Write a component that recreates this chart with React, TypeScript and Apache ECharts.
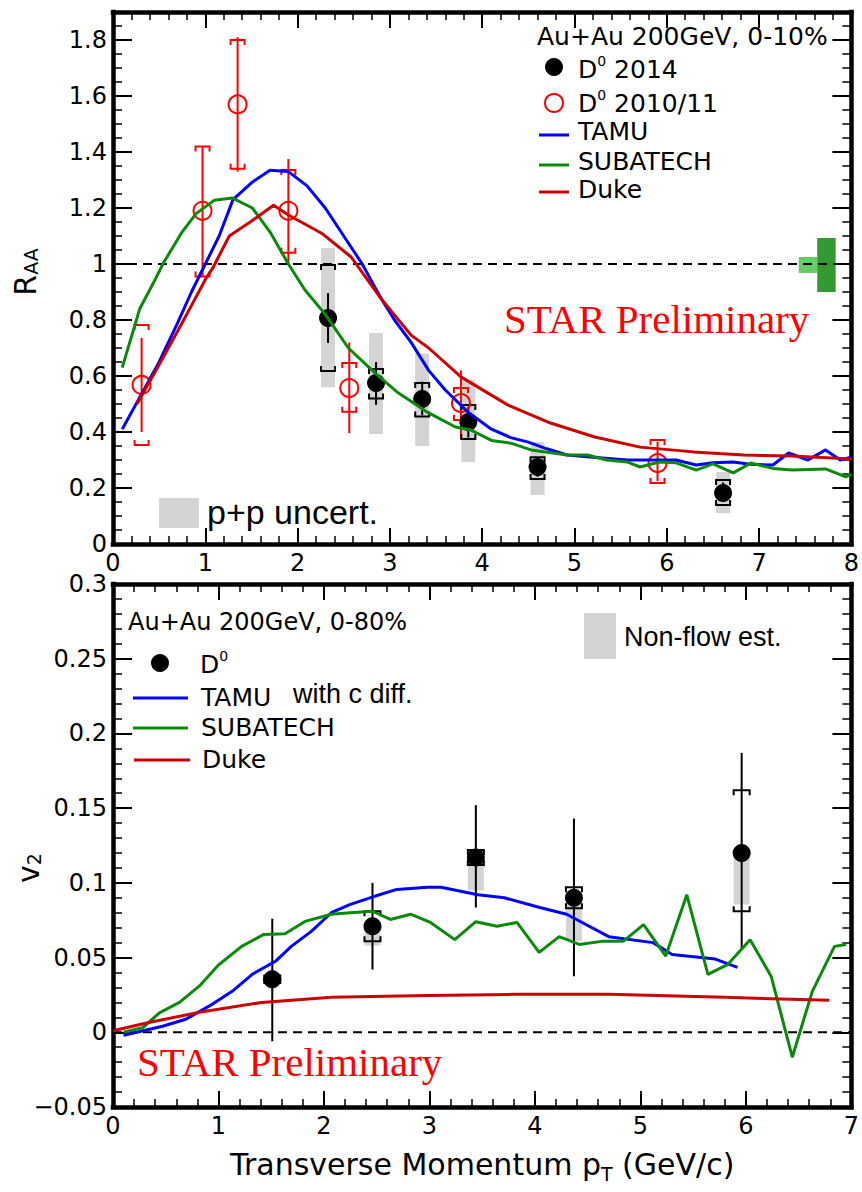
import React, { useEffect, useRef } from "react";
import * as echarts from "echarts";

// ---------------- Top panel: R_AA ----------------
const xTicksTop = [0, 1, 2, 3, 4, 5, 6, 7, 8];
// D0 2014 (filled black)
const d14Pt = [2.33, 2.85, 3.35, 3.85, 4.6, 6.61];
const d14Raa = [0.807, 0.575, 0.518, 0.436, 0.275, 0.182];
const d14StatLo = [0.718, 0.497, 0.46, 0.38, 0.24, 0.15];
const d14StatHi = [0.896, 0.65, 0.58, 0.49, 0.31, 0.22];
const d14SysLo = [0.618, 0.52, 0.455, 0.375, 0.232, 0.139];
const d14SysHi = [0.996, 0.625, 0.575, 0.496, 0.31, 0.229];
const d14PpLo = [0.56, 0.393, 0.35, 0.293, 0.175, 0.11];
const d14PpHi = [1.057, 0.754, 0.68, 0.586, 0.364, 0.257];
// D0 2010/11 (open red)
const d11Pt = [0.31, 0.97, 1.35, 1.9, 2.56, 3.77, 5.9];
const d11Raa = [0.568, 1.19, 1.57, 1.19, 0.557, 0.503, 0.289];
const d11StatLo = [0.4, 0.955, 1.33, 0.997, 0.396, 0.375, 0.225];
const d11StatHi = [0.736, 1.42, 1.81, 1.375, 0.72, 0.62, 0.365];
const d11SysLo = [0.354, 0.955, 1.34, 1.04, 0.472, 0.443, 0.218];
const d11SysHi = [0.782, 1.42, 1.8, 1.336, 0.646, 0.557, 0.371];
// normalisation boxes at unity
const normX0 = [7.43, 7.63];
const normX1 = [7.63, 7.83];
const normLo = [0.968, 0.9];
const normHi = [1.025, 1.093];
// models
const tamuRaaPt = [0.1, 0.3, 0.5, 0.7, 0.85, 1.0, 1.15, 1.3, 1.5, 1.7, 1.9, 2.1, 2.3, 2.5, 2.7, 2.9, 3.05, 3.23, 3.42, 3.6, 3.85, 4.1, 4.31, 4.5, 4.7, 4.92, 5.2, 5.57, 5.9, 6.1, 6.32, 6.5, 6.72, 6.9, 7.15, 7.32, 7.53, 7.72, 7.88, 8.0];
const tamuRaa = [0.41, 0.53, 0.65, 0.79, 0.9, 1.0, 1.1, 1.23, 1.29, 1.335, 1.33, 1.28, 1.2, 1.1, 1.0, 0.88, 0.8, 0.72, 0.62, 0.55, 0.47, 0.41, 0.38, 0.364, 0.34, 0.318, 0.31, 0.3, 0.3, 0.3, 0.282, 0.29, 0.293, 0.285, 0.282, 0.325, 0.3, 0.336, 0.3, 0.31];
const subaRaaPt = [0.1, 0.29, 0.45, 0.54, 0.74, 0.9, 1.1, 1.29, 1.51, 1.71, 1.9, 2.08, 2.3, 2.55, 2.84, 3.09, 3.41, 3.71, 3.88, 4.1, 4.31, 4.53, 4.92, 5.14, 5.35, 5.57, 5.71, 5.92, 6.1, 6.32, 6.5, 6.72, 6.91, 7.15, 7.36, 7.72, 7.94, 8.0];
const subaRaa = [0.63, 0.84, 0.94, 1.0, 1.11, 1.18, 1.228, 1.236, 1.2, 1.11, 1.0, 0.907, 0.82, 0.7, 0.61, 0.54, 0.47, 0.418, 0.407, 0.37, 0.36, 0.336, 0.318, 0.318, 0.3, 0.293, 0.275, 0.293, 0.29, 0.264, 0.286, 0.254, 0.289, 0.27, 0.264, 0.268, 0.24, 0.25];
const dukeRaaPt = [0.26, 0.5, 0.75, 0.88, 1.01, 1.08, 1.26, 1.47, 1.74, 1.9, 2.26, 2.58, 2.9, 3.23, 3.42, 3.77, 4.28, 4.74, 5.22, 5.71, 6.29, 6.83, 7.36, 8.0];
const dukeRaa = [0.5, 0.64, 0.79, 0.87, 0.95, 0.985, 1.1, 1.146, 1.21, 1.175, 1.11, 1.025, 0.878, 0.746, 0.7, 0.597, 0.496, 0.432, 0.382, 0.346, 0.329, 0.318, 0.314, 0.304];

// ---------------- Bottom panel: v2 ----------------
const v2Pt = [1.51, 2.46, 3.44, 4.37, 5.96];
const v2Val = [0.0355, 0.071, 0.117, 0.09, 0.12];
const v2StatLo = [-0.006, 0.042, 0.0835, 0.0375, 0.0555];
const v2StatHi = [0.076, 0.1, 0.152, 0.143, 0.187];
const v2SysLo = [0.033, 0.061, 0.112, 0.083, 0.081];
const v2SysHi = [0.038, 0.081, 0.122, 0.097, 0.162];
const v2NfPt = [2.46, 3.44, 4.37, 5.96];
const v2NfLo = [0.058, 0.095, 0.061, 0.0855];
const v2NfHi = [0.072, 0.117, 0.09, 0.12];
const tamuV2Pt = [0.1, 0.47, 0.69, 0.94, 1.13, 1.32, 1.54, 1.69, 1.88, 2.07, 2.25, 2.48, 2.69, 2.98, 3.11, 3.46, 3.71, 4.02, 4.3, 4.7, 5.12, 5.3, 5.71, 5.92];
const tamuV2 = [-0.002, 0.004, 0.0087, 0.0187, 0.0274, 0.0388, 0.0475, 0.0575, 0.0675, 0.08, 0.0856, 0.091, 0.0956, 0.097, 0.097, 0.092, 0.09, 0.084, 0.079, 0.064, 0.06, 0.052, 0.049, 0.0435];
const subaV2Pt = [0.1, 0.28, 0.44, 0.63, 0.82, 1.0, 1.22, 1.43, 1.63, 1.82, 2.07, 2.25, 2.46, 2.63, 2.82, 3.01, 3.24, 3.44, 3.64, 3.83, 4.04, 4.23, 4.42, 4.65, 4.84, 5.03, 5.24, 5.44, 5.64, 5.83, 6.04, 6.24, 6.44, 6.63, 6.84, 6.95];
const subaV2 = [0.0, 0.003, 0.013, 0.02, 0.031, 0.045, 0.0575, 0.0655, 0.066, 0.0742, 0.079, 0.08, 0.081, 0.0755, 0.079, 0.0735, 0.062, 0.074, 0.071, 0.0735, 0.0535, 0.064, 0.0588, 0.061, 0.061, 0.072, 0.051, 0.092, 0.0388, 0.0455, 0.062, 0.0374, -0.0167, 0.0274, 0.0575, 0.0588];
const dukeV2Pt = [0.0, 0.35, 0.82, 1.41, 2.07, 2.98, 3.8, 4.7, 5.8, 6.79];
const dukeV2 = [0.001, 0.0067, 0.0134, 0.02, 0.0234, 0.0247, 0.0254, 0.0254, 0.0234, 0.0214];

const C_BLUE = "#0000ff";
const C_GREEN = "#0a8a0a";
const C_DRED = "#cc0000";
const C_RED = "#ff0000";
const C_GRAY = "#d4d4d4";
const SANS = "DejaVu Sans";

const zip = (a: number[], b: number[]) => a.map((v, i) => [v, b[i]]);

function errRender(color: string, halfW: number, cap: number) {
  return (params: any, api: any) => {
    const x = api.value(0);
    const pLo = api.coord([x, api.value(2)]);
    const pHi = api.coord([x, api.value(3)]);
    const qLo = api.coord([x, api.value(4)]);
    const qHi = api.coord([x, api.value(5)]);
    const cx = pLo[0];
    const style = { stroke: color, lineWidth: 2, fill: null };
    return {
      type: "group",
      children: [
        { type: "line", shape: { x1: cx, y1: pLo[1], x2: cx, y2: pHi[1] }, style },
        { type: "polyline", shape: { points: [[cx - halfW, qHi[1] + cap], [cx - halfW, qHi[1]], [cx + halfW, qHi[1]], [cx + halfW, qHi[1] + cap]] }, style },
        { type: "polyline", shape: { points: [[cx - halfW, qLo[1] - cap], [cx - halfW, qLo[1]], [cx + halfW, qLo[1]], [cx + halfW, qLo[1] - cap]] }, style },
      ],
    };
  };
}

function boxRender(halfW: number) {
  return (params: any, api: any) => {
    const x = api.value(0);
    const lo = api.coord([x, api.value(1)]);
    const hi = api.coord([x, api.value(2)]);
    return { type: "rect", shape: { x: lo[0] - halfW, y: hi[1], width: 2 * halfW, height: lo[1] - hi[1] }, style: { fill: C_GRAY } };
  };
}

const normColors = ["#66cc66", "#339933"];
function normRender(params: any, api: any) {
  const a = api.coord([api.value(0), api.value(3)]);
  const b = api.coord([api.value(1), api.value(2)]);
  return { type: "rect", shape: { x: a[0], y: a[1], width: b[0] - a[0], height: b[1] - a[1] }, style: { fill: normColors[params.dataIndex] } };
}

const axisLine = { show: true, onZero: false, lineStyle: { color: "#000", width: 4.5, cap: "square" } };
const labelStyle = { fontSize: 24, fontFamily: SANS, color: "#000" };

function xAx(gridIndex: number, position: string, max: number, showLabel: boolean, extra: any = {}) {
  return {
    type: "value", gridIndex, position, min: 0, max, interval: 1,
    axisLine,
    axisTick: { show: true, inside: true, length: 16, lineStyle: { color: "#000", width: 2 } },
    minorTick: { show: true, splitNumber: 5, length: 8, lineStyle: { color: "#000", width: 1.5 } },
    axisLabel: { show: showLabel, margin: 7, ...labelStyle },
    splitLine: { show: false },
    ...extra,
  };
}
function yAx(gridIndex: number, position: string, min: number, max: number, interval: number, minor: number, showLabel: boolean, fmt?: any) {
  return {
    type: "value", gridIndex, position, min, max, interval,
    axisLine,
    axisTick: { show: true, inside: true, length: 19, lineStyle: { color: "#000", width: 2 } },
    minorTick: { show: true, splitNumber: minor, length: 9, lineStyle: { color: "#000", width: 1.5 } },
    axisLabel: { show: showLabel, margin: 6, formatter: fmt, ...labelStyle },
    splitLine: { show: false },
  };
}

const lineSeries = (name: string, data: number[][], color: string, xi: number, yi: number, extra: any = {}) => ({
  type: "line", name, data, xAxisIndex: xi, yAxisIndex: yi, showSymbol: false, symbol: "none", z: 5,
  lineStyle: { color, width: 3 }, itemStyle: { color }, silent: true, ...extra,
});

function buildOption(): any {
  const d14Rows = d14Pt.map((p, i) => [p, d14Raa[i], d14StatLo[i], d14StatHi[i], d14SysLo[i], d14SysHi[i]]);
  const d11Rows = d11Pt.map((p, i) => [p, d11Raa[i], d11StatLo[i], d11StatHi[i], d11SysLo[i], d11SysHi[i]]);
  const v2Rows = v2Pt.map((p, i) => [p, v2Val[i], v2StatLo[i], v2StatHi[i], v2SysLo[i], v2SysHi[i]]);
  const normRows = normX0.map((x, i) => [x, normX1[i], normLo[i], normHi[i]]);

  const tFont = (s: number, extra: any = {}) => ({ fontFamily: SANS, fontSize: s, fill: "#000", ...extra });
  const supRich = { b: { ...tFont(25), lineHeight: 28, verticalAlign: "bottom" }, s: { ...tFont(14), lineHeight: 14, verticalAlign: "top" } };

  const graphic: any[] = [
    // top legend
    { type: "text", left: 537, top: 24, z: 100, style: { text: "Au+Au 200GeV, 0-10%", ...tFont(25) } },
    { type: "circle", shape: { cx: 554, cy: 67, r: 9 }, style: { fill: "#000" }, z: 100 },
    { type: "text", x: 578, y: 68, z: 100, style: { text: "{b|D}{s|0}{b| 2014}", verticalAlign: "middle", rich: supRich } },
    { type: "circle", shape: { cx: 554, cy: 103, r: 9 }, style: { fill: "none", stroke: C_RED, lineWidth: 2 }, z: 100 },
    { type: "text", x: 578, y: 102, z: 100, style: { text: "{b|D}{s|0}{b| 2010/11}", verticalAlign: "middle", rich: supRich } },
    { type: "line", shape: { x1: 539, y1: 135, x2: 569, y2: 135 }, style: { stroke: C_BLUE, lineWidth: 3 }, z: 100 },
    { type: "text", x: 578, y: 131, z: 100, style: { text: "TAMU", verticalAlign: "middle", ...tFont(25) } },
    { type: "line", shape: { x1: 539, y1: 165, x2: 569, y2: 165 }, style: { stroke: C_GREEN, lineWidth: 3 }, z: 100 },
    { type: "text", x: 578, y: 161, z: 100, style: { text: "SUBATECH", verticalAlign: "middle", ...tFont(25) } },
    { type: "line", shape: { x1: 539, y1: 192, x2: 569, y2: 192 }, style: { stroke: C_DRED, lineWidth: 3 }, z: 100 },
    { type: "text", x: 578, y: 189, z: 100, style: { text: "Duke", verticalAlign: "middle", ...tFont(25) } },
    // STAR preliminary top
    { type: "text", x: 504, y: 319, z: 100, style: { text: "STAR Preliminary", verticalAlign: "middle", fontFamily: "Liberation Serif", fontSize: 41, fill: C_RED } },
    // p+p uncert
    { type: "rect", shape: { x: 159, y: 498, width: 40, height: 30 }, style: { fill: C_GRAY }, z: 100 },
    { type: "text", x: 207, y: 512, z: 100, style: { text: "p+p uncert.", verticalAlign: "middle", fontFamily: "Liberation Sans", fontSize: 34, fill: "#000" } },
    // y titles
    { type: "text", x: 25, y: 272, rotation: Math.PI / 2, z: 100, style: { text: "{r|R}{s|AA}", align: "center", verticalAlign: "middle", rich: { r: { ...tFont(30), lineHeight: 30, verticalAlign: "top" }, s: { ...tFont(19), lineHeight: 19, padding: [12, 0, 0, 0], verticalAlign: "bottom" } } } },
    { type: "text", x: 28, y: 868, rotation: Math.PI / 2, z: 100, style: { text: "{r|v}{s|2}", align: "center", verticalAlign: "middle", rich: { r: { ...tFont(30), lineHeight: 30, verticalAlign: "top" }, s: { ...tFont(19), lineHeight: 19, padding: [12, 0, 0, 0], verticalAlign: "bottom" } } } },
    // bottom legend
    { type: "text", x: 128, y: 622, z: 100, style: { text: "Au+Au 200GeV, 0-80%", verticalAlign: "middle", ...tFont(24) } },
    { type: "circle", shape: { cx: 160, cy: 663, r: 9 }, style: { fill: "#000" }, z: 100 },
    { type: "text", x: 200, y: 663, z: 100, style: { text: "{b|D}{s|0}", verticalAlign: "middle", rich: supRich } },
    { type: "line", shape: { x1: 133, y1: 698, x2: 188, y2: 698 }, style: { stroke: C_BLUE, lineWidth: 3 }, z: 100 },
    { type: "text", x: 201, y: 697, z: 100, style: { text: "TAMU", verticalAlign: "middle", ...tFont(25) } },
    { type: "text", x: 293, y: 694, z: 100, style: { text: "with c diff.", verticalAlign: "middle", fontFamily: "Liberation Sans", fontSize: 27, fill: "#000" } },
    { type: "line", shape: { x1: 133, y1: 728, x2: 188, y2: 728 }, style: { stroke: C_GREEN, lineWidth: 3 }, z: 100 },
    { type: "text", x: 201, y: 727, z: 100, style: { text: "SUBATECH", verticalAlign: "middle", ...tFont(25) } },
    { type: "line", shape: { x1: 134, y1: 760, x2: 190, y2: 760 }, style: { stroke: C_DRED, lineWidth: 3 }, z: 100 },
    { type: "text", x: 202, y: 759, z: 100, style: { text: "Duke", verticalAlign: "middle", ...tFont(25) } },
    { type: "rect", shape: { x: 584, y: 613, width: 32, height: 46 }, style: { fill: C_GRAY }, z: 100 },
    { type: "text", x: 624, y: 637, z: 100, style: { text: "Non-flow est.", verticalAlign: "middle", fontFamily: "Liberation Sans", fontSize: 27, fill: "#000" } },
    // STAR preliminary bottom
    { type: "text", x: 137, y: 1062, z: 100, style: { text: "STAR Preliminary", verticalAlign: "middle", fontFamily: "Liberation Serif", fontSize: 41, fill: C_RED } },
  ];

  const topFmt = (v: number) => (Math.abs(v * 5 - Math.round(v * 5)) < 1e-6 ? String(+v.toFixed(1)) : "");
  const botFmt = (v: number) => {
    const r = +v.toFixed(2);
    if (r < 0) return "\u2212" + String(-r);
    return String(r);
  };

  return {
    animation: false,
    backgroundColor: "#fff",
    grid: [
      { left: 113, top: 12, width: 744, height: 532 },
      { left: 113, top: 584, width: 745, height: 523 },
    ],
    xAxis: [
      xAx(0, "bottom", 8, true, { data: xTicksTop }),
      xAx(0, "top", 8, false),
      xAx(1, "bottom", 7, true, {
        name: "{m|Transverse Momentum p}{sub|T}{m| (GeV/c)}", nameLocation: "middle", nameGap: 42,
        nameTextStyle: {
          fontFamily: SANS, fontSize: 30, color: "#000",
          rich: {
            m: { fontFamily: SANS, fontSize: 30, color: "#000", lineHeight: 34, verticalAlign: "top" },
            sub: { fontFamily: SANS, fontSize: 19, color: "#000", lineHeight: 19, padding: [21, 0, 0, 0], verticalAlign: "bottom" },
          },
        },
      }),
      xAx(1, "top", 7, false),
    ],
    yAxis: [
      yAx(0, "left", 0, 1.9, 0.2, 4, true, topFmt),
      yAx(0, "right", 0, 1.9, 0.2, 4, false),
      yAx(1, "left", -0.05, 0.3, 0.05, 5, true, botFmt),
      yAx(1, "right", -0.05, 0.3, 0.05, 5, false),
    ],
    graphic,
    series: [
      // ---- top panel ----
      { type: "custom", name: "p+p uncert.", xAxisIndex: 0, yAxisIndex: 0, z: 1, silent: true, renderItem: boxRender(7), encode: { x: 0, y: [1, 2] }, data: d14Pt.map((p, i) => [p, d14PpLo[i], d14PpHi[i]]) },
      { type: "custom", name: "norm", xAxisIndex: 0, yAxisIndex: 0, z: 1, silent: true, renderItem: normRender, encode: { x: [0, 1], y: [2, 3] }, data: normRows },
      lineSeries("unity", [[0, 1], [8, 1]], "#000", 0, 0, { z: 3, lineStyle: { color: "#000", width: 2, type: [9, 6] } }),
      { type: "custom", name: "D0 2010/11 err", xAxisIndex: 0, yAxisIndex: 0, z: 2, silent: true, renderItem: errRender(C_RED, 7, 5), encode: { x: 0, y: 1 }, data: d11Rows },
      { type: "scatter", name: "D0 2010/11", xAxisIndex: 0, yAxisIndex: 0, z: 2, symbol: "circle", symbolSize: 18, itemStyle: { color: "rgba(255,255,255,0)", borderColor: C_RED, borderWidth: 2, opacity: 1 }, data: zip(d11Pt, d11Raa) },
      { type: "custom", name: "D0 2014 err", xAxisIndex: 0, yAxisIndex: 0, z: 2, silent: true, renderItem: errRender("#000", 7, 5), encode: { x: 0, y: 1 }, data: d14Rows },
      { type: "scatter", name: "D0 2014", xAxisIndex: 0, yAxisIndex: 0, z: 2, symbol: "circle", symbolSize: 18, itemStyle: { color: "#000", opacity: 1 }, data: zip(d14Pt, d14Raa) },
      lineSeries("TAMU", zip(tamuRaaPt, tamuRaa), C_BLUE, 0, 0),
      lineSeries("SUBATECH", zip(subaRaaPt, subaRaa), C_GREEN, 0, 0),
      lineSeries("Duke", zip(dukeRaaPt, dukeRaa), C_DRED, 0, 0),
      // ---- bottom panel ----
      { type: "custom", name: "Non-flow est.", xAxisIndex: 2, yAxisIndex: 2, z: 1, silent: true, renderItem: boxRender(8), encode: { x: 0, y: [1, 2] }, data: v2NfPt.map((p, i) => [p, v2NfLo[i], v2NfHi[i]]) },
      lineSeries("zero", [[0, 0], [7, 0]], "#000", 2, 2, { z: 3, lineStyle: { color: "#000", width: 2, type: [9, 6] } }),
      { type: "custom", name: "D0 v2 err", xAxisIndex: 2, yAxisIndex: 2, z: 2, silent: true, renderItem: errRender("#000", 8, 5), encode: { x: 0, y: 1 }, data: v2Rows },
      { type: "scatter", name: "D0 v2", xAxisIndex: 2, yAxisIndex: 2, z: 2, symbol: "circle", symbolSize: 18, itemStyle: { color: "#000", opacity: 1 }, data: zip(v2Pt, v2Val) },
      lineSeries("TAMU v2", zip(tamuV2Pt, tamuV2), C_BLUE, 2, 2),
      lineSeries("SUBATECH v2", zip(subaV2Pt, subaV2), C_GREEN, 2, 2),
      lineSeries("Duke v2", zip(dukeV2Pt, dukeV2), C_DRED, 2, 2),
    ],
  };
}

export default function App() {
  const ref = useRef<HTMLDivElement>(null);
  useEffect(() => {
    if (!ref.current) return;
    const chart = echarts.init(ref.current, undefined, { renderer: "svg" });
    chart.setOption(buildOption());
    return () => chart.dispose();
  }, []);
  return <div ref={ref} style={{ position: "absolute", left: 0, top: 0, width: 862, height: 1192, background: "#fff" }} />;
}
